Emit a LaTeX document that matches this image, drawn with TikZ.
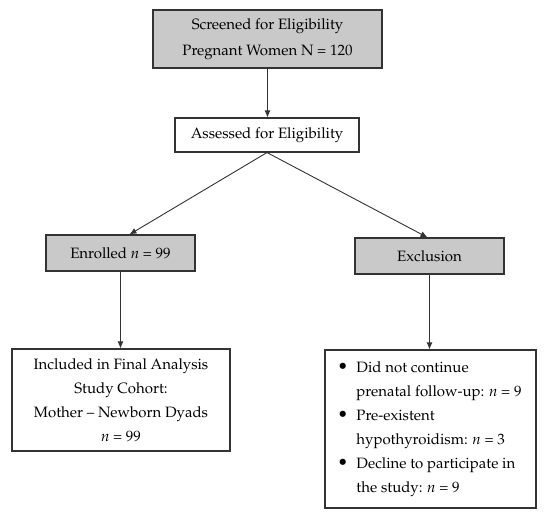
\documentclass[tikz,border=0pt]{standalone}
\usepackage[T1]{fontenc}
\usepackage{mathpazo}
\usetikzlibrary{arrows.meta}
\newcommand{\bul}{\makebox[17pt][l]{\hspace*{-2pt}\fontsize{18}{24}\selectfont\textbullet}}
\tikzset{
  box/.style={draw=black!80, line width=1.1pt, inner sep=0pt, align=center,
    text=black, font=\fontsize{15}{24}\selectfont},
  grey/.style={box, fill=black!21},
  arr/.style={draw=black!80, line width=0.9pt, -{Latex[length=7pt,width=6pt]}},
}
\begin{document}
\begin{tikzpicture}[x=1pt,y=-1pt]
\useasboundingbox[fill=white] (0,0) rectangle (550,519);
\node[grey, minimum width=229pt, minimum height=58pt,
  font=\fontsize{15}{26}\selectfont] (scr) at (267.5,39)
  {Screened for Eligibility\\Pregnant Women N = 120};
\node[box, minimum width=184pt, minimum height=34pt] (ass) at (267,135)
  {Assessed for Eligibility};
\node[grey, minimum width=149pt, minimum height=36pt] (enr) at (120.5,253)
  {Enrolled \textit{n} = 99};
\node[grey, minimum width=149pt, minimum height=36pt] (exc) at (429.5,256)
  {Exclusion};
\node[box, minimum width=218pt, minimum height=102pt] (inc) at (121,400)
  {Included in Final Analysis\\Study Cohort:\\Mother -- Newborn Dyads\\\textit{n} = 99};
\node[box, align=left, minimum width=211pt, minimum height=158pt] (lst) at (430.5,429)
  {\bul Did not continue\\
   \hspace*{17pt}prenatal follow-up: \textit{n} = 9\\
   \bul Pre-existent\\
   \hspace*{17pt}hypothyroidism: \textit{n} = 3\\
   \bul Decline to participate in\\
   \hspace*{17pt}the study: \textit{n} = 9};
\draw[arr] (scr.south) -- (scr.south |- ass.north);
\draw[arr] (ass.south) -- ([xshift=9pt]enr.north);
\draw[arr] (ass.south) -- ([xshift=-2pt]exc.north);
\draw[arr] (enr.south) -- (enr.south |- inc.north);
\draw[arr] (exc.south) -- (exc.south |- lst.north);
\end{tikzpicture}
\end{document}
